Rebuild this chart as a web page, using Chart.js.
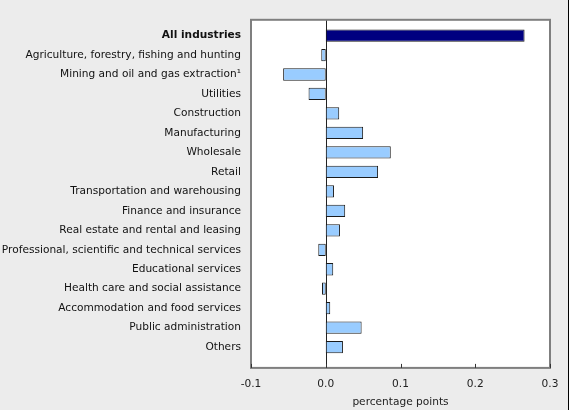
<!DOCTYPE html>
<html>
<head>
<meta charset="utf-8">
<script src="https://cdn.jsdelivr.net/npm/chart.js@4.4.0/dist/chart.umd.min.js"></script>
<style>
  body { margin: 0; background: #ffffff; }
  #bg { position: absolute; left: 0; top: 0; width: 568px; height: 410px; background: #ececec; border-right: 1px solid #000; }
  #wrap { position: absolute; left: 0; top: 0; width: 580px; height: 410px; }
</style>
</head>
<body>
<div id="bg"></div>
<div id="wrap"><canvas id="industryChart" width="580" height="410"></canvas></div>
<script>
const ctx = document.getElementById('industryChart');

// categories and values (percentage points)
const industries = [
  'All industries',
  'Agriculture, forestry, fishing and hunting',
  'Mining and oil and gas extraction\u00b9',
  'Utilities',
  'Construction',
  'Manufacturing',
  'Wholesale',
  'Retail',
  'Transportation and warehousing',
  'Finance and insurance',
  'Real estate and rental and leasing',
  'Professional, scientific and technical services',
  'Educational services',
  'Health care and social assistance',
  'Accommodation and food services',
  'Public administration',
  'Others'
];
const contributions = [
  0.266, -0.006, -0.057, -0.023, 0.018, 0.050, 0.087, 0.070, 0.011,
  0.026, 0.019, -0.010, 0.010, -0.005, 0.006, 0.048, 0.023
];
const xTicks = [-0.1, 0.0, 0.1, 0.2, 0.3];
const xTitle = 'percentage points';

const fontFamily = '"DejaVu Sans", Verdana, sans-serif';
const barColors = contributions.map((v, i) => i === 0 ? '#000080' : '#99ccff');

// the plot frame reaches a bit past the category bands
const frameAbove = 6;
const frameBelow = 11;

const framePlugin = {
  id: 'frame',
  beforeDraw(chart) {
    const a = chart.chartArea;
    const c = chart.ctx;
    c.save();
    c.fillStyle = '#ffffff';
    c.fillRect(a.left, a.top - frameAbove, a.right - a.left, a.bottom - a.top + frameAbove + frameBelow);
    c.restore();
  },
  beforeDatasetsDraw(chart) {
    const a = chart.chartArea;
    const c = chart.ctx;
    const x0 = Math.round(chart.scales.x.getPixelForValue(0)) + 0.5;
    c.save();
    c.strokeStyle = '#222222';
    c.lineWidth = 1;
    c.beginPath();
    c.moveTo(x0, a.top - frameAbove);
    c.lineTo(x0, a.bottom + frameBelow);
    c.stroke();
    c.restore();
  },
  afterDraw(chart) {
    const a = chart.chartArea;
    const c = chart.ctx;
    const top = a.top - frameAbove;
    const bottom = a.bottom + frameBelow;
    c.save();
    c.strokeStyle = '#7f7f7f';
    c.lineWidth = 2;
    c.strokeRect(a.left, top, a.right - a.left, bottom - top);
    // small inward tick marks on the bottom edge
    c.strokeStyle = '#333333';
    c.lineWidth = 1;
    chart.scales.x.ticks.forEach(t => {
      const px = Math.round(chart.scales.x.getPixelForValue(t.value)) + 0.5;
      c.beginPath();
      c.moveTo(px, bottom);
      c.lineTo(px, bottom - 4);
      c.stroke();
    });
    c.restore();
  }
};

const chart = new Chart(ctx, {
  type: 'bar',
  data: {
    labels: industries,
    datasets: [{
      data: contributions,
      backgroundColor: barColors,
      borderColor: '#1a1a1a',
      borderWidth: 1,
      borderSkipped: false,
      categoryPercentage: 1,
      barPercentage: 0.63
    }]
  },
  plugins: [framePlugin],
  options: {
    indexAxis: 'y',
    responsive: false,
    animation: false,
    layout: {
      padding: { top: 25.8, right: 30, bottom: 0, left: 0 }
    },
    plugins: {
      legend: { display: false },
      tooltip: { enabled: false }
    },
    scales: {
      x: {
        type: 'linear',
        min: xTicks[0],
        max: xTicks[xTicks.length - 1],
        afterBuildTicks: (scale) => {
          scale.ticks = xTicks.map(v => ({ value: v }));
        },
        afterFit: (scale) => { scale.height = 53.1; },
        border: { display: false },
        grid: { display: false, drawTicks: false },
        ticks: {
          padding: 21,
          color: '#222222',
          font: { family: fontFamily, size: 10.6 },
          callback: (v) => Number(v).toFixed(1)
        },
        title: {
          display: true,
          text: xTitle,
          color: '#222222',
          font: { family: fontFamily, size: 10.6 },
          padding: { top: 0, bottom: 1 }
        }
      },
      y: {
        afterFit: (scale) => { scale.width = 251; },
        border: { display: false },
        grid: { display: false, drawTicks: false },
        ticks: {
          padding: 10,
          color: '#111111',
          autoSkip: false,
          font: (c) => ({ family: fontFamily, size: 10.6, weight: c.index === 0 ? 'bold' : 'normal' })
        }
      }
    }
  }
});
</script>
</body>
</html>
